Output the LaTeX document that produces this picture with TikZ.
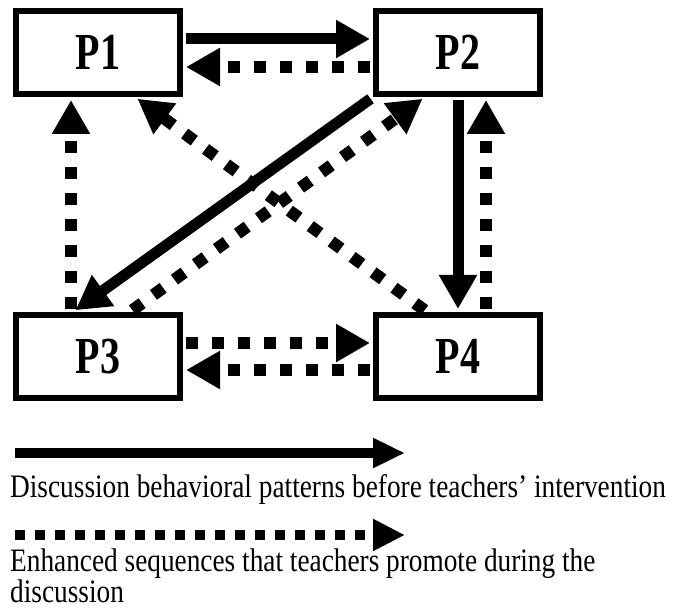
\documentclass[tikz,border=0pt]{standalone}
\usepackage{fontspec}
\setmainfont{Liberation Serif}
\usetikzlibrary{arrows.meta}

\begin{document}
\begin{tikzpicture}[x=1pt, y=-1pt,
	pbox/.style={rectangle, draw, line width=6pt, minimum width=164pt, minimum height=83pt, inner sep=0pt, font=\fontsize{40}{40}\selectfont\bfseries},
	before/.style={line width=11pt, -{Triangle[length=34pt, width=36pt]}, shorten >=3pt, shorten <=3pt},
	enhanced/.style={line width=12pt, dash pattern=on 12pt off 14pt, -{Triangle[length=34pt, width=36pt]}, shorten >=3pt, shorten <=3pt},
	legtext/.style={anchor=base west, inner sep=0pt, font=\fontsize{27.3}{30}\selectfont}]
	\useasboundingbox (0,0) rectangle (678,609);
	% the four participants
	\path (98,52.5) node[pbox](P1){\scalebox{1}[1.3]{P1}}
		(458,52.5) node[pbox](P2){\scalebox{1}[1.3]{P2}}
		(98,356.5) node[pbox](P3){\scalebox{1}[1.3]{P3}}
		(458,356.5) node[pbox](P4){\scalebox{1}[1.3]{P4}};
	\draw [before]([yshift=13.5pt]P1.east) -- ([yshift=13.5pt]P2.west);
	\draw [enhanced]([yshift=-14.5pt]P2.west) -- ([yshift=-14.5pt]P1.east);
	\draw [enhanced]([yshift=13.5pt]P3.east) -- ([yshift=13.5pt]P4.west);
	\draw [enhanced]([yshift=-13.5pt]P4.west) -- ([yshift=-13.5pt]P3.east);
	\draw [enhanced]([xshift=-27pt]P3.north) -- ([xshift=-27pt]P1.south);
	\draw [before](P2.south) -- (P4.north);
	\draw [enhanced]([xshift=28pt]P4.north) -- ([xshift=28pt]P2.south);
	\draw [before](P2.south west) -- ([xshift=-25pt]P3.north);
	\draw [enhanced]([xshift=32pt]P3.north) -- ([xshift=-33pt]P2.south);
	\draw [enhanced]([xshift=-31pt]P4.north) -- ([xshift=37pt]P1.south);
	% legend
	\coordinate (s1) at (15,453);
	\coordinate (e1) at (405,453);
	\coordinate (s2) at (15,535);
	\coordinate (e2) at (405,535);
	\draw [line width=10pt, -{Triangle[length=32pt, width=28pt]}](s1) -- (e1);
	\draw [line width=10pt, dash pattern=on 10pt off 10pt, -{Triangle[length=32pt, width=30pt]}](s2) -- (e2);
	\path (10,498) node[legtext](L1){\scalebox{1}[1.2]{Discussion behavioral patterns before teachers’ intervention}}
		(10,572) node[legtext](L2){\scalebox{1}[1.2]{Enhanced sequences that teachers promote during the}}
		(10,602) node[legtext](L3){\scalebox{1}[1.2]{discussion}};
\end{tikzpicture}
\end{document}
